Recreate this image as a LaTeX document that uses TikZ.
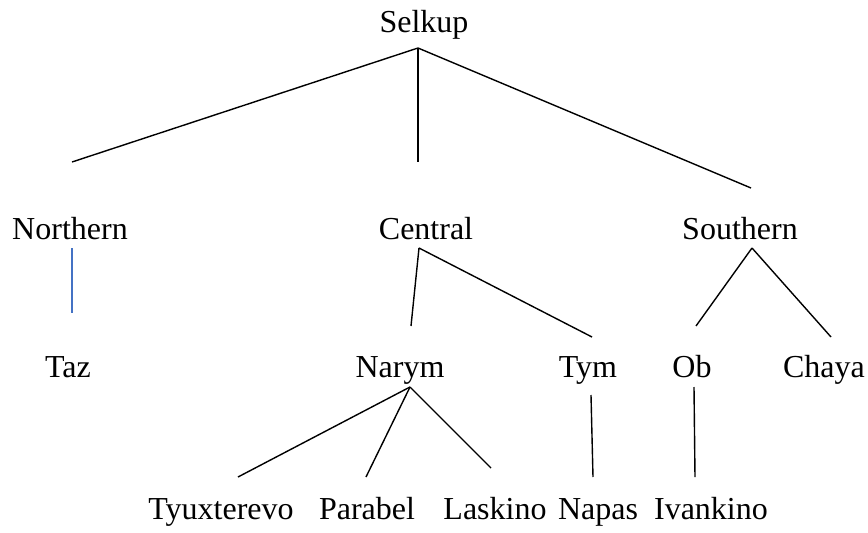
\documentclass[tikz,border=0pt]{standalone}
\usepackage{fontspec}
\setmainfont{Liberation Serif}
\usepackage{tikz}

\begin{document}
\begin{tikzpicture}[x=1pt,y=-1pt,
	lang/.style={anchor=base,inner sep=0pt,font=\fontsize{32}{38}\selectfont},
	branch/.style={draw=black,line width=1.4pt},
	bluebranch/.style={draw={rgb,255:red,68;green,114;blue,196},line width=1.4pt}]
	\useasboundingbox (0,0) rectangle (868,533);

	\node [lang] (S) at (424,32) {Selkup};
	\node [lang] (N) at (70,239) {Northern};
	\node [lang] (C) at (426,239) {Central};
	\node [lang] (SO) at (740,239) {Southern};
	\node [lang] (T) at (68,377) {Taz};
	\node [lang] (NA) at (400,377) {Narym};
	\node [lang] (TY) at (588,377) {Tym};
	\node [lang] (O) at (692,377) {Ob};
	\node [lang] (CH) at (824,377) {Chaya};
	\node [lang] (TX) at (221,519) {Tyuxterevo};
	\node [lang] (P) at (367,519) {Parabel};
	\node [lang] (L) at (495,519) {Laskino};
	\node [lang] (NP) at (598,519) {Napas};
	\node [lang] (I) at (711,519) {Ivankino};

	\coordinate (S0) at (418,48);
	\coordinate (S1) at (72,162);
	\coordinate (S2) at (418,162);
	\coordinate (S3) at (751,188);
	\coordinate (N0) at (72,248);
	\coordinate (N1) at (72,313);
	\coordinate (C0) at (419,248);
	\coordinate (C1) at (411,326);
	\coordinate (C2) at (592,337);
	\coordinate (SO0) at (752,248);
	\coordinate (SO1) at (696,326);
	\coordinate (SO2) at (831,337);
	\coordinate (NA0) at (410,387);
	\coordinate (NA1) at (238,477);
	\coordinate (NA2) at (366,477);
	\coordinate (NA3) at (491,468);
	\coordinate (TY0) at (591,395);
	\coordinate (TY1) at (593,477);
	\coordinate (O0) at (694,387);
	\coordinate (O1) at (695,477);

	\path [branch] (S0) edge (S1);
	\path [branch] (S0) edge (S2);
	\path [branch] (S0) edge (S3);
	\path [bluebranch] (N0) edge (N1);
	\path [branch] (C0) edge (C1);
	\path [branch] (C0) edge (C2);
	\path [branch] (SO0) edge (SO1);
	\path [branch] (SO0) edge (SO2);
	\path [branch] (NA0) edge (NA1);
	\path [branch] (NA0) edge (NA2);
	\path [branch] (NA0) edge (NA3);
	\path [branch] (TY0) edge (TY1);
	\path [branch] (O0) edge (O1);
\end{tikzpicture}
\end{document}
